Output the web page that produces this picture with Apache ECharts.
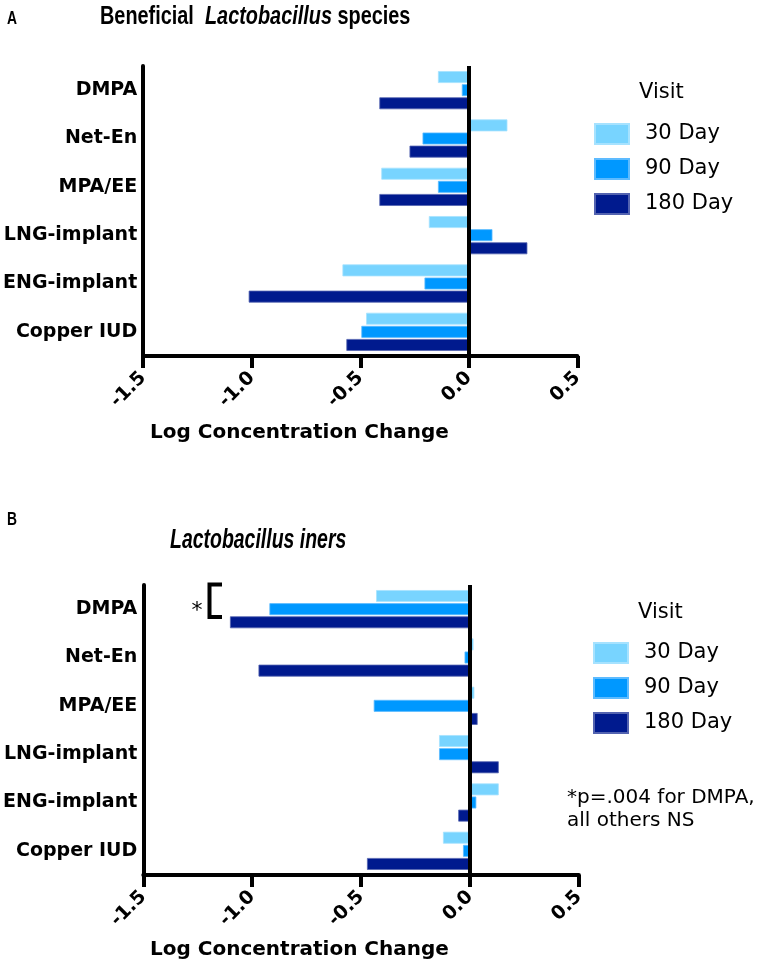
<!DOCTYPE html>
<html>
<head>
<meta charset="utf-8">
<script src="https://cdn.jsdelivr.net/npm/echarts@6/dist/echarts.min.js"></script>
<style>
html,body{margin:0;padding:0;background:#fff;}
#chart{width:764px;height:969px;}
</style>
</head>
<body>
<div id="chart"></div>
<script>
// ---- data ----
var categories = ['DMPA', 'Net-En', 'MPA/EE', 'LNG-implant', 'ENG-implant', 'Copper IUD'];
var seriesNames = ['30 Day', '90 Day', '180 Day'];
var xTicks = [-1.5, -1.0, -0.5, 0.0, 0.5];

// Panel A: Beneficial Lactobacillus species
var benef30 = [-0.142, 0.178, -0.403, -0.184, -0.582, -0.473];
var benef90 = [-0.032, -0.213, -0.142, 0.109, -0.204, -0.495];
var benef180 = [-0.412, -0.273, -0.412, 0.270, -1.014, -0.564];

// Panel B: Lactobacillus iners
var iners30 = [-0.431, 0.016, 0.020, -0.142, 0.132, -0.124];
var iners90 = [-0.921, -0.025, -0.442, -0.142, 0.029, -0.032];
var iners180 = [-1.102, -0.971, 0.035, 0.132, -0.054, -0.473];

var colors = ['#78D4FF', '#0098FF', '#001A8E'];
var borders = ['#A6E2FF', '#5DBBFF', '#5363B0'];

var chart = echarts.init(document.getElementById('chart'), null, {renderer: 'canvas'});

var LIB = '"Liberation Sans", Arial, sans-serif';
var DEJ = '"DejaVu Sans", sans-serif';

function makeX(idx) {
  return {
    type: 'value', gridIndex: idx, min: xTicks[0], max: xTicks[xTicks.length - 1], interval: 0.5,
    splitLine: {show: false},
    axisLine: {show: true, onZero: false, lineStyle: {color: '#000', width: 4}},
    axisTick: {show: true, length: 12, lineStyle: {color: '#000', width: 4}},
    axisLabel: {
      rotate: 45, margin: 19, color: '#000', fontFamily: DEJ, fontWeight: 'bold', fontSize: 19,
      formatter: function (v) { return v.toFixed(1); }
    }
  };
}
function makeY(idx) {
  return {
    type: 'category', gridIndex: idx, data: categories, inverse: true,
    axisLine: {show: true, onZero: false, lineStyle: {color: '#000', width: 4}},
    axisTick: {show: false},
    axisLabel: {margin: 6, color: '#000', fontFamily: DEJ, fontWeight: 'bold', fontSize: 19}
  };
}
function makeSeries(name, data, ci, gi, withLine) {
  var s = {
    name: name, type: 'bar', xAxisIndex: gi, yAxisIndex: gi, data: data,
    barCategoryGap: '21%', barGap: '10%',
    itemStyle: {color: colors[ci], borderColor: borders[ci], borderWidth: 0.8},
    emphasis: {disabled: true}
  };
  if (withLine) {
    s.markLine = {
      silent: true, symbol: ['none', 'none'], label: {show: false},
      lineStyle: {color: '#000', width: 4, type: 'solid'},
      data: [{xAxis: 0}], animation: false
    };
  }
  return s;
}

var legendStyle = {
  orient: 'vertical', itemWidth: 34, itemHeight: 20, itemGap: 13, icon: 'rect',
  selectedMode: false, data: seriesNames,
  textStyle: {fontFamily: DEJ, fontSize: 21, color: '#000', padding: [0, 0, 0, 11]}
};

function txt(text, x, y, font, align, valign, lh) {
  return {
    type: 'text', silent: true,
    style: {text: text, x: x, y: y, font: font, fill: '#000',
      textAlign: align, textVerticalAlign: valign, align: align, verticalAlign: valign,
      lineHeight: lh}
  };
}
function scaledTxt(text, x, y, sx, rich, font) {
  return {
    type: 'text', silent: true, x: x, y: y, scaleX: sx, scaleY: 1,
    style: {text: text, x: 0, y: 0, font: font, fill: '#000', rich: rich,
      textAlign: 'left', textVerticalAlign: 'middle', align: 'left', verticalAlign: 'middle'}
  };
}

var richA = {
  b: {fontFamily: LIB, fontWeight: 'bold', fontSize: 25, color: '#000'},
  i: {fontFamily: LIB, fontWeight: 'bold', fontStyle: 'italic', fontSize: 25, color: '#000'}
};
var richB = {
  bi: {fontFamily: LIB, fontWeight: 'bold', fontStyle: 'italic', fontSize: 28, color: '#000'}
};

var option = {
  animation: false,
  backgroundColor: '#fff',
  grid: [
    {left: 141.7, width: 435.6, top: 66, height: 290, containLabel: false},
    {left: 143.3, width: 435.6, top: 585, height: 290, containLabel: false}
  ],
  xAxis: [makeX(0), makeX(1)],
  yAxis: [makeY(0), makeY(1)],
  legend: [
    Object.assign({left: 589, top: 118}, legendStyle),
    Object.assign({left: 588, top: 637}, legendStyle)
  ],
  series: [
    makeSeries(seriesNames[0], benef30, 0, 0, true),
    makeSeries(seriesNames[1], benef90, 1, 0, false),
    makeSeries(seriesNames[2], benef180, 2, 0, false),
    makeSeries(seriesNames[0], iners30, 0, 1, true),
    makeSeries(seriesNames[1], iners90, 1, 1, false),
    makeSeries(seriesNames[2], iners180, 2, 1, false)
  ],
  graphic: [
    scaledTxt('{b|Beneficial}  {i|Lactobacillus} {b|species}', 100, 17, 0.795, richA, 'bold 25px ' + LIB),
    scaledTxt('{bi|Lactobacillus iners}', 170, 540, 0.695, richB, 'bold italic 28px ' + LIB),
    scaledTxt('A', 7, 19, 0.77, null, 'bold 18px ' + LIB),
    scaledTxt('B', 7, 520.5, 0.77, null, 'bold 18px ' + LIB),
    txt('Visit', 639, 93, '21px ' + DEJ, 'left', 'middle'),
    txt('Visit', 638, 613, '21px ' + DEJ, 'left', 'middle'),
    txt('Log Concentration Change', 150, 433, 'bold 20px ' + DEJ, 'left', 'middle'),
    txt('Log Concentration Change', 150, 950, 'bold 20px ' + DEJ, 'left', 'middle'),
    txt('*p=.004 for DMPA,\nall others NS', 567, 809, '20px ' + DEJ, 'left', 'middle', 23),
    txt('*', 197, 611, '22px ' + DEJ, 'center', 'middle'),
    {
      type: 'polyline', silent: true,
      shape: {points: [[222, 584.5], [209.5, 584.5], [209.5, 617], [222, 617]]},
      style: {stroke: '#000', lineWidth: 4, fill: null}
    }
  ]
};
chart.setOption(option);
</script>
</body>
</html>
